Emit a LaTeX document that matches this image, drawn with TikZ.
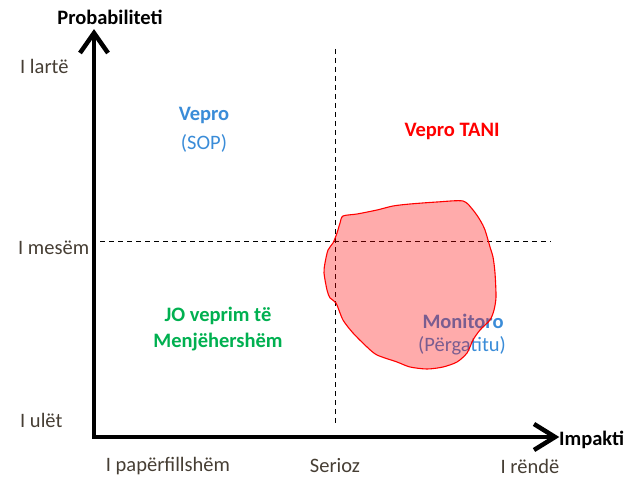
\documentclass[tikz,border=0pt]{standalone}
\usepackage{fontspec}
\setmainfont{Carlito}
\usetikzlibrary{calc}
\definecolor{ablue}{RGB}{58,140,216}
\definecolor{agreen}{RGB}{0,176,80}
\definecolor{ared}{RGB}{255,0,0}
\definecolor{tick}{RGB}{70,62,52}
\begin{document}
\begin{tikzpicture}[x=1pt,y=-1pt,
  lbl/.style={inner sep=0pt,font=\fontsize{20.5}{24}\selectfont},
  blbl/.style={lbl,font=\fontsize{20.5}{24}\selectfont\bfseries},
  axisline/.style={line width=4.5pt,black},
  chevron/.style={line width=4.5pt,black,line join=miter,miter limit=10},
  guide/.style={black,line width=0.9pt,dash pattern=on 5pt off 4pt}]
\useasboundingbox (0,0) rectangle (628,478);
% coordinates
\coordinate (origin) at (94,437);
\coordinate (xstart) at (92,437);
\coordinate (ytip) at (94,34);
\coordinate (xtip) at (553,437);
\coordinate (vtop) at (335,49);
\coordinate (vbot) at (335,425);
\coordinate (hleft) at (100,241);
\coordinate (hright) at (551,241);
% texts
\node[blbl] (prob) at (110,17) {Probabiliteti};
\node[blbl,anchor=west] (imp) at (559,440) {Impakti};
\node[lbl,anchor=west,text=tick] (high) at (20,66) {I lartë};
\node[lbl,anchor=west,text=tick] (mid) at (18,248) {I mesëm};
\node[lbl,anchor=west,text=tick] (low) at (20,420) {I ulët};
\node[lbl,text=tick] (neg) at (168,466) {I papërfillshëm};
\node[lbl,text=tick] (ser) at (335,466) {Serioz};
\node[lbl,text=tick] (sev) at (530,466) {I rëndë};
\node[blbl,text=ablue] (vepro) at (204,115) {Vepro};
\node[lbl,text=ablue] (sop) at (204,143) {(SOP)};
\node[blbl,text=ared] (tani) at (452,131) {Vepro TANI};
\node[blbl,text=agreen] (jo1) at (218,316) {JO veprim të};
\node[blbl,text=agreen] (jo2) at (218,342) {Menjëhershëm};
\node[blbl,text=ablue] (mon) at (463,321) {Monitoro};
\node[lbl,text=ablue] (prep) at (462,346) {(Përgatitu)};
% guides
\draw[guide] (vtop) -- (vbot);
\draw[guide] (hleft) -- (hright);
% blob
\draw[ared,line width=1.1pt,fill=ared,fill opacity=0.33] plot[smooth cycle,tension=0.45] coordinates {
(343,216) (357,214) (377,210) (393,206) (410,204) (437,202) (463,201)
(473,210) (480,220) (485,230) (490,247) (493,257) (495,273) (496,297)
(494,310) (490,320) (480,330) (473,340) (467,353) (457,362) (443,367)
(427,369) (410,367) (397,362) (377,355) (367,347) (353,333) (343,320)
(336,303) (330,298) (327,290) (324,273) (325,263) (328,250) (333,243)
(337,233) (340,223)};
% axes
\draw[axisline] (origin) -- (ytip);
\draw[axisline] (xstart) -- (xtip);
\draw[chevron] ($(ytip)+(-14,19)$) -- ($(ytip)+(0,-1)$) -- ($(ytip)+(14,19)$);
\draw[chevron] ($(xtip)+(-19,-13)$) -- ($(xtip)+(2,0)$) -- ($(xtip)+(-19,13)$);
\end{tikzpicture}
\end{document}
